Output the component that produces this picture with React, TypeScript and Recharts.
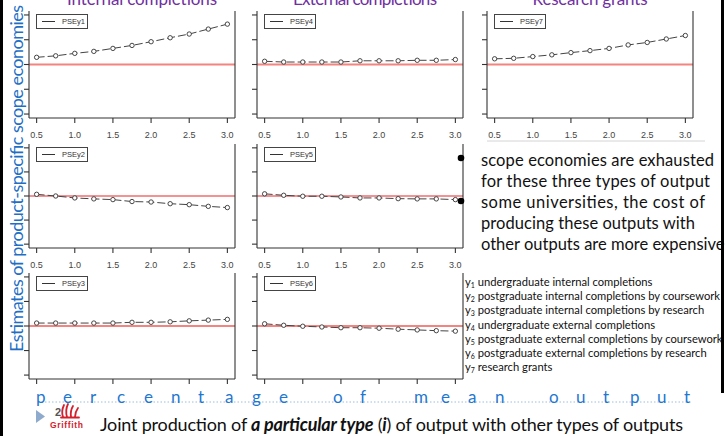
import { LineChart, Line, XAxis, YAxis, ReferenceLine } from 'recharts'

// output level as a share of mean output
const outputLevels = [0.5, 0.75, 1.0, 1.25, 1.5, 1.75, 2.0, 2.25, 2.5, 2.75, 3.0]

// product-specific scope economy estimates
const pseY1 = [0.29, 0.35, 0.45, 0.53, 0.65, 0.77, 0.92, 1.08, 1.23, 1.43, 1.63]
const pseY2 = [0.07, 0.0, -0.08, -0.12, -0.15, -0.23, -0.25, -0.32, -0.36, -0.43, -0.48]
const pseY3 = [0.12, 0.12, 0.12, 0.12, 0.12, 0.15, 0.15, 0.17, 0.21, 0.24, 0.27]
const pseY4 = [0.13, 0.1, 0.1, 0.1, 0.1, 0.15, 0.15, 0.15, 0.17, 0.17, 0.2]
const pseY5 = [0.09, 0.03, -0.01, -0.01, -0.04, -0.08, -0.08, -0.11, -0.12, -0.12, -0.15]
const pseY6 = [0.09, 0.03, -0.01, -0.04, -0.07, -0.07, -0.09, -0.13, -0.16, -0.19, -0.21]
const pseY7 = [0.23, 0.25, 0.32, 0.39, 0.48, 0.56, 0.65, 0.79, 0.89, 1.03, 1.17]

const xTicks = [0.5, 1.0, 1.5, 2.0, 2.5, 3.0]
const yTicks = [-2, -1, 0, 1, 2]

const columnTitles = ['Internal completions', 'External completions', 'Research grants']
const axisTitle = 'Estimates of product-specific scope economies'
const xTitle = 'percentage of mean output'
const notes = [
  'scope economies are exhausted',
  'for these three types of output',
  'some universities, the cost of',
  'producing these outputs with',
  'other outputs are more expensive',
]
const outputNames = [
  'undergraduate internal completions',
  'postgraduate internal completions by coursework',
  'postgraduate internal completions by research',
  'undergraduate external completions',
  'postgraduate external completions by coursework',
  'postgraduate external completions by research',
  'research grants',
]

// ---- layout ----
const COL_X = [29, 257, 487]
const ROW_Y = [11, 144, 273]
const ROW_H = [107, 104, 106]
const BOX_W = 206
const PAD_L = 10
const PAD_R = 22
const PAD_T = 2
const PAD_B = 26
const X_DOMAIN = [0.4, 3.1]
const Y_DOMAIN = [-2.16, 2.16]
const TITLE_X = [142, 365, 590]
const TITLE_W = [150, 144, 115]
const NOTE_W = [233, 229, 224, 214]

const panels = [
  { name: 'PSEy1', values: pseY1, col: 0, row: 0, rightLabels: true },
  { name: 'PSEy4', values: pseY4, col: 1, row: 0, rightLabels: true },
  { name: 'PSEy7', values: pseY7, col: 2, row: 0, rightLabels: false },
  { name: 'PSEy2', values: pseY2, col: 0, row: 1, rightLabels: true },
  { name: 'PSEy5', values: pseY5, col: 1, row: 1, rightLabels: false },
  { name: 'PSEy3', values: pseY3, col: 0, row: 2, rightLabels: true },
  { name: 'PSEy6', values: pseY6, col: 1, row: 2, rightLabels: false },
]

const axisStroke = { stroke: '#333', strokeWidth: 1.1 }
const tickFont = 'Liberation Sans, Arial, sans-serif'
const slideFont = 'Lato, "Open Sans", sans-serif'

const Blank = () => <g />

const XLabel = (props: any) => (
  <text x={props.x} y={props.y + 15} textAnchor="middle" fontSize={9} fill="#444" fontFamily={tickFont}>
    {Number(props.payload.value).toFixed(1)}
  </text>
)

const YLabel = (props: any) => {
  const cx = props.x + 5
  return (
    <text
      x={cx} y={props.y}
      transform={`rotate(-90 ${cx} ${props.y})`}
      textAnchor="middle" dominantBaseline="central"
      fontSize={9} fill="#444" fontFamily={tickFont}
    >
      {props.payload.value}
    </text>
  )
}

function Panel({ p }: { p: typeof panels[number] }) {
  const boxX = COL_X[p.col]
  const boxY = ROW_Y[p.row]
  const h = ROW_H[p.row]
  const data = outputLevels.map((x, i) => ({ x, v: p.values[i] }))
  const thinZero = p.row === 1
  return (
    <div style={{ position: 'absolute', left: boxX - PAD_L, top: boxY - PAD_T }}>
      <LineChart
        width={PAD_L + BOX_W + PAD_R}
        height={PAD_T + h + PAD_B}
        data={data}
        margin={{ top: PAD_T, right: 0, bottom: 0, left: 0 }}
      >
        <XAxis
          xAxisId="b" dataKey="x" type="number" domain={X_DOMAIN} ticks={xTicks} interval={0}
          height={PAD_B} tickSize={5} tickMargin={0}
          axisLine={axisStroke} tickLine={axisStroke}
          tick={p.row < 2 ? XLabel : Blank}
        />
        <XAxis
          xAxisId="t" orientation="top" dataKey="x" type="number" domain={X_DOMAIN}
          height={0} tick={false} tickLine={false} axisLine={axisStroke}
        />
        <YAxis
          yAxisId="l" type="number" domain={Y_DOMAIN} ticks={yTicks} interval={0}
          width={PAD_L} tickSize={5} tickMargin={0}
          axisLine={axisStroke} tickLine={axisStroke} tick={Blank}
        />
        <YAxis
          yAxisId="r" orientation="right" type="number" domain={Y_DOMAIN} ticks={yTicks} interval={0}
          width={PAD_R} tickSize={5} tickMargin={0}
          axisLine={axisStroke}
          tickLine={p.rightLabels ? axisStroke : false}
          tick={p.rightLabels ? YLabel : Blank}
        />
        <ReferenceLine
          xAxisId="b" yAxisId="l" y={0}
          stroke={thinZero ? '#e8262b' : '#f4847f'}
          strokeWidth={thinZero ? 1.2 : 2.2}
        />
        <Line
          xAxisId="b" yAxisId="l" type="linear" dataKey="v"
          stroke="#444" strokeWidth={1} strokeDasharray="8 3"
          dot={{ r: 2.2, fill: '#fff', stroke: '#333', strokeWidth: 0.9, strokeDasharray: 'none' }}
          isAnimationActive={false}
        />
      </LineChart>
      <div
        style={{
          position: 'absolute', left: PAD_L + 7, top: PAD_T + 3, width: 52, height: 15,
          border: '1px solid #444', background: '#fff', boxSizing: 'border-box',
          fontFamily: tickFont, fontSize: 7.5, color: '#333',
          display: 'flex', alignItems: 'center',
        }}
      >
        <span style={{ display: 'inline-block', width: 13, borderTop: '1px solid #333', marginLeft: 5, marginRight: 7 }} />
        {p.name}
      </div>
    </div>
  )
}

export default function App() {
  return (
    <div style={{ position: 'absolute', left: 0, top: 0, width: 727, height: 436, overflow: 'hidden', background: '#fff' }}>
      {panels.map((p) => <Panel key={p.name} p={p} />)}
      <svg width={727} height={436} style={{ position: 'absolute', left: 0, top: 0, pointerEvents: 'none' }} fontFamily={slideFont}>
        {/* column titles, cut off by the top edge as on the slide */}
        {columnTitles.map((t, i) => (
          <text key={t} x={TITLE_X[i]} y={5} textAnchor="middle" fontSize={17} fill="#7030a0" textLength={TITLE_W[i]}>{t}</text>
        ))}

        {/* vertical axis title */}
        <text transform="translate(23 352) rotate(-90)" fontSize={18} fill="#1f6fc5" textLength={347}>{axisTitle}</text>

        {/* horizontal axis title, spaced letters on a dotted rule */}
        <line x1={38} x2={692} y1={402} y2={402} stroke="#9dbde3" strokeWidth={1} strokeDasharray="1.5 2" />
        {xTitle.split('').map((ch, i) => (
          <text key={i} x={36 + i * 27} y={403} fontSize={17} fill="#1f77d0">{ch}</text>
        ))}

        {/* grey rule under the research grants panel */}
        <line x1={487} x2={705} y1={141} y2={141} stroke="#d4d4d4" strokeWidth={1} />

        {/* bullet notes */}
        <circle cx={461} cy={158} r={3.3} fill="#000" />
        <circle cx={461} cy={201} r={3.3} fill="#000" />
        {notes.map((t, i) => (
          <text key={t} x={481} y={166 + i * 21} fontSize={16.5} fill="#111" textLength={NOTE_W[i]}>{t}</text>
        ))}

        {/* output definitions */}
        {outputNames.map((t, i) => (
          <text key={t} x={465} y={286 + i * 14.2} fontSize={11.2} fill="#111">
            y<tspan fontSize={7} dy={2}>{i + 1}</tspan><tspan dy={-2}> {t}</tspan>
          </text>
        ))}

        {/* footer */}
        <polygon points="36,410 45,416.5 36,423" fill="#8eaacc" />
        <text x={55} y={416} fontSize={11} fontWeight={700} fill="#555" fontFamily={tickFont}>2</text>
        <g stroke="#d4202e" strokeWidth={1.8} fill="none" strokeLinecap="round">
          <path d="M63 417 Q61 411 64 405" />
          <path d="M67 417 Q65 410 68 404" />
          <path d="M71 417 Q70 411 73 406" />
          <path d="M75 417 Q75 412 78 408" />
          <path d="M61 417.5 L79 417.5" />
        </g>
        <text x={50} y={428} fontSize={8.5} fontWeight={700} fill="#d4202e" fontFamily={tickFont} textLength={33}>Griffith</text>
        <text x={100} y={431} fontSize={18} fill="#111" textLength={583}>
          Joint production of <tspan fontWeight={700} fontStyle="italic">a particular type</tspan> (<tspan fontWeight={700} fontStyle="italic">i</tspan>) of output with other types of outputs
        </text>

        {/* slide frame edges */}
        <rect x={0} y={0} width={3} height={436} fill="#000" />
        <rect x={721} y={0} width={3} height={393} fill="#000" />
      </svg>
    </div>
  )
}
